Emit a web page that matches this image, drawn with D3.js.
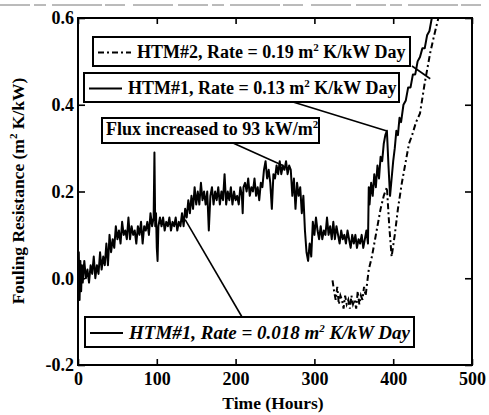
<!DOCTYPE html>
<html>
<head>
<meta charset="utf-8">
<script src="https://cdn.jsdelivr.net/npm/d3@7"></script>
<style>
  body { margin: 0; background: #fff; }
  svg text { font-family: "Liberation Serif", "DejaVu Serif", serif !important; fill: #000; }
</style>
</head>
<body>
<div id="chart"></div>
<script>
// tick values
var xTicks = [0, 100, 200, 300, 400, 500];
var yTicks = [-0.2, 0.0, 0.2, 0.4, 0.6];

// HTM#1 : [hours, fouling resistance]
var htm1 = [[0,0.00],[1,0.06],[2,-0.05],[3,0.04],[4,-0.03],[5,0.03],[6,-0.01],[8,0.04],[10,0.00],[12,0.02],
  [14,-0.01],[16,0.03],[18,0.01],[20,0.05],[22,0.00],[24,0.03],[26,0.01],[28,0.06],[30,0.02],[32,0.05],
  [34,0.03],[36,0.08],[38,0.03],[40,0.10],[42,0.06],[44,0.09],[46,0.07],[48,0.12],[50,0.09],[52,0.11],
  [54,0.08],[56,0.13],[58,0.10],[60,0.11],[62,0.09],[64,0.14],[66,0.09],[68,0.12],[70,0.10],[72,0.11],
  [74,0.08],[76,0.12],[78,0.10],[80,0.13],[82,0.08],[84,0.12],[86,0.11],[88,0.13],[90,0.10],[92,0.15],
  [94,0.12],[96,0.14],[97,0.29],[98,0.12],[99,0.15],[100,0.07],[101,0.04],[102,0.12],[104,0.14],[106,0.12],
  [108,0.14],[110,0.11],[112,0.13],[114,0.12],[116,0.14],[118,0.11],[120,0.13],[122,0.12],[124,0.14],[126,0.11],
  [128,0.13],[130,0.12],[132,0.15],[134,0.12],[136,0.16],[138,0.14],[140,0.18],[142,0.15],[144,0.19],[146,0.16],
  [148,0.21],[150,0.17],[152,0.20],[154,0.17],[156,0.22],[158,0.18],[160,0.20],[162,0.17],[164,0.20],[166,0.11],
  [168,0.19],[170,0.21],[172,0.17],[174,0.20],[176,0.18],[178,0.21],[180,0.17],[182,0.20],[184,0.18],[186,0.24],
  [188,0.17],[190,0.20],[192,0.18],[194,0.21],[196,0.17],[198,0.20],[200,0.18],[202,0.19],[204,0.17],[206,0.21],
  [208,0.19],[209,0.15],[210,0.21],[212,0.22],[214,0.20],[216,0.23],[218,0.19],[220,0.21],[222,0.20],[224,0.23],
  [226,0.19],[228,0.21],[230,0.18],[232,0.22],[234,0.21],[236,0.25],[238,0.27],[240,0.23],[242,0.25],[244,0.22],
  [246,0.16],[248,0.24],[250,0.23],[252,0.26],[254,0.24],[256,0.27],[258,0.24],[260,0.26],[262,0.25],[264,0.27],
  [266,0.24],[268,0.26],[270,0.25],[272,0.19],[274,0.23],[276,0.16],[278,0.22],[280,0.19],[282,0.21],[284,0.15],
  [286,0.19],[288,0.11],[290,0.06],[292,0.04],[294,0.08],[296,0.05],[298,0.13],[300,0.10],[302,0.14],[304,0.11],
  [306,0.09],[308,0.12],[310,0.09],[312,0.11],[314,0.10],[316,0.14],[318,0.10],[320,0.12],[322,0.09],[324,0.13],
  [326,0.09],[328,0.12],[330,0.10],[332,0.08],[334,0.11],[336,0.09],[338,0.10],[340,0.08],[342,0.11],[344,0.09],
  [346,0.07],[348,0.10],[350,0.08],[352,0.10],[354,0.07],[356,0.09],[358,0.08],[360,0.10],[362,0.07],[364,0.09],
  [366,0.11],[368,0.08],[369,0.21],[370,0.17],[372,0.22],[374,0.19],[376,0.24],[378,0.21],[380,0.26],[382,0.23],
  [384,0.28],[386,0.27],[388,0.31],[390,0.33],[392,0.34],[394,0.26],[396,0.19],[398,0.23],[400,0.27],[402,0.30],
  [404,0.34],[406,0.33],[408,0.37],[410,0.36],[413,0.40],[416,0.41],[419,0.44],[422,0.44],[425,0.47],[428,0.47],
  [431,0.50],[434,0.51],[437,0.53],[440,0.53],[443,0.56],[446,0.57],[449,0.60],[452,0.63]];

// HTM#2 : [hours, fouling resistance]
var htm2 = [[323,-0.005],[325,-0.03],[327,-0.05],[329,-0.02],[331,-0.06],[333,-0.04],[335,-0.05],[337,-0.07],
  [339,-0.04],[341,-0.06],[343,-0.05],[345,-0.07],[347,-0.04],[349,-0.06],[351,-0.05],[353,-0.07],[355,-0.03],
  [357,-0.06],[359,-0.04],[361,-0.05],[363,-0.02],[365,-0.04],[367,-0.01],[369,0.02],[373,0.05],[377,0.09],
  [380,0.12],[384,0.16],[388,0.19],[392,0.21],[395,0.12],[398,0.05],[402,0.10],[406,0.16],[411,0.22],
  [415,0.26],[420,0.31],[424,0.33],[429,0.36],[434,0.38],[440,0.45],[444,0.49],[447,0.52],[452,0.56],
  [456,0.59],[460,0.62]];

// annotation texts and the point each one points to [hours, value]
var noteText = ["HTM#2, Rate = 0.19 m", "HTM#1, Rate = 0.13 m", "Flux increased to 93 kW/m", "HTM#1, Rate = 0.018 m"];
var noteTail = [" K/kW Day", " K/kW Day", "", " K/kW Day"];
var noteTarget = [[447, 0.46], [391, 0.34], [260, 0.26], [136, 0.135]];

var margin = {top: 18, right: 17, bottom: 50, left: 78},
    width = 489 - margin.left - margin.right,
    height = 415 - margin.top - margin.bottom;

var root = d3.select("#chart")
  .append("svg")
    .attr("width", 489)
    .attr("height", 415)
    .attr("font-family", "Liberation Serif");

// scanner smudge along the top edge
root.append("line")
    .attr("x1", 0).attr("x2", 489).attr("y1", 5).attr("y2", 5)
    .style("stroke", "#777").style("stroke-width", 1)
    .style("stroke-dasharray", "30,4,12,6,50,3,20,8,40,5");

var svg = root.append("g")
    .attr("transform", "translate(" + margin.left + "," + margin.top + ")");

var x = d3.scaleLinear().domain([0, 500]).range([0, width]);
var y = d3.scaleLinear().domain([-0.2, 0.6]).range([height, 0]);

svg.append("clipPath").attr("id", "clip")
  .append("rect").attr("width", width).attr("height", height);

// axes (ticks point inward)
var fmt = function(d) { return d.toFixed(1); };
svg.append("g")
    .attr("transform", "translate(0," + height + ")")
    .call(d3.axisBottom(x).tickValues(xTicks).tickSize(-6).tickPadding(7));
svg.append("g")
    .call(d3.axisLeft(y).tickValues(yTicks).tickSize(-7).tickPadding(4).tickFormat(fmt));
svg.append("g")
    .call(d3.axisTop(x).tickValues(xTicks).tickSize(-6).tickFormat(""));
svg.append("g")
    .attr("transform", "translate(" + width + ",0)")
    .call(d3.axisRight(y).tickValues(yTicks).tickSize(-7).tickFormat(""));

svg.selectAll(".domain").remove();
svg.selectAll(".tick line").style("stroke", "#000").style("stroke-width", 1.6);
svg.selectAll(".tick text")
    .attr("font-family", null)
    .style("font-size", "18px")
    .style("font-weight", "bold")
    .style("fill", "#000");

svg.append("rect")
    .attr("width", width).attr("height", height)
    .style("fill", "none").style("stroke", "#000").style("stroke-width", 2);

// lines
var line = d3.line()
    .x(function(d) { return x(d[0]); })
    .y(function(d) { return y(d[1]); });

var plot = svg.append("g").attr("clip-path", "url(#clip)");
plot.append("path")
    .datum(htm1)
    .attr("d", line)
    .style("fill", "none").style("stroke", "#000").style("stroke-width", 2)
    .style("stroke-linejoin", "round");
plot.append("path")
    .datum(htm2)
    .attr("d", line)
    .style("fill", "none").style("stroke", "#000").style("stroke-width", 2)
    .style("stroke-dasharray", "6,3,2,3");

// annotation boxes: position, size, line sample, italic, leader start
var boxes = [
  {x: 15,  y: 19,  w: 317, h: 29, sample: "dash",  italic: false, from: [334, 48]},
  {x: 6,   y: 55,  w: 315, h: 29, sample: "solid", italic: false, from: [215, 84]},
  {x: 24,  y: 100, w: 217, h: 25, sample: null,    italic: false, from: [155, 125]},
  {x: 7,   y: 299, w: 329, h: 30, sample: "solid", italic: true,  from: [164, 299]}
];

boxes.forEach(function(b, i) {
  svg.append("line")
      .attr("x1", b.from[0]).attr("y1", b.from[1])
      .attr("x2", x(noteTarget[i][0])).attr("y2", y(noteTarget[i][1]))
      .style("stroke", "#000").style("stroke-width", 1.6);

  var g = svg.append("g").attr("transform", "translate(" + b.x + "," + b.y + ")");
  g.append("rect")
      .attr("width", b.w).attr("height", b.h)
      .style("fill", "#fff").style("stroke", "#000").style("stroke-width", 2);

  var tx = 4;
  if (b.sample) {
    g.append("line")
        .attr("x1", 5).attr("x2", 38).attr("y1", b.h / 2 + 1).attr("y2", b.h / 2 + 1)
        .style("stroke", "#000").style("stroke-width", 1.8)
        .style("stroke-dasharray", b.sample == "dash" ? "6,3,2,3" : null);
    tx = 44;
  }
  var t = g.append("text")
      .attr("x", tx).attr("y", b.h - 8)
      .style("font-size", b.italic ? "19px" : "18px")
      .style("font-weight", "bold")
      .style("font-style", b.italic ? "italic" : "normal");
  t.append("tspan").text(noteText[i]);
  t.append("tspan").attr("dy", -7).style("font-size", "11px").text("2");
  t.append("tspan").attr("dy", 7).text(noteTail[i]);
});

// axis titles
root.append("text")
    .attr("transform", "translate(24,191) rotate(-90)")
    .attr("text-anchor", "middle")
    .style("font-size", "17.5px").style("font-weight", "bold")
    .call(function(t) {
      t.append("tspan").text("Fouling Resistance (m");
      t.append("tspan").attr("dy", -7).style("font-size", "11px").text("2");
      t.append("tspan").attr("dy", 7).text(" K/kW)");
    });

root.append("text")
    .attr("x", 273).attr("y", 409)
    .attr("text-anchor", "middle")
    .style("font-size", "17.5px").style("font-weight", "bold")
    .text("Time (Hours)");
</script>
</body>
</html>
